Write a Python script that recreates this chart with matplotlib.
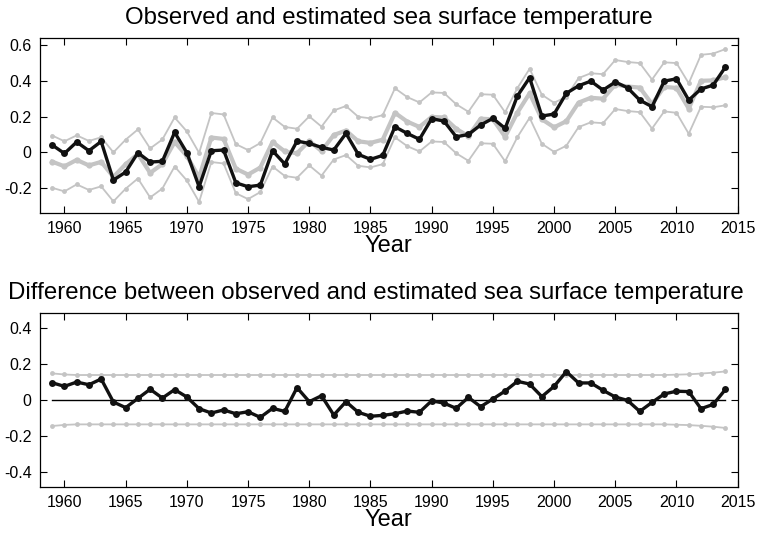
import numpy as np
import matplotlib.pyplot as plt

plt.rcParams['font.family'] = ['Liberation Sans', 'DejaVu Sans']

years = np.arange(1959, 2015)

# observed SST anomaly (black, top panel)
observed = [0.041, -0.006, 0.058, 0.009, 0.061, -0.155, -0.110, -0.002, -0.054, -0.050,
            0.112, -0.002, -0.192, 0.009, 0.013, -0.170, -0.192, -0.183, 0.009, -0.065,
            0.063, 0.050, 0.028, 0.013, 0.106, -0.011, -0.039, -0.017, 0.143, 0.106,
            0.073, 0.188, 0.175, 0.087, 0.100, 0.153, 0.190, 0.134, 0.315, 0.417,
            0.203, 0.214, 0.330, 0.372, 0.398, 0.348, 0.393, 0.361, 0.292, 0.255,
            0.398, 0.411, 0.292, 0.354, 0.376, 0.477]

# estimated SST (thick grey)
estimated = [-0.052, -0.078, -0.042, -0.073, -0.053, -0.137, -0.066, -0.009, -0.115, -0.065,
             0.058, -0.020, -0.140, 0.083, 0.075, -0.091, -0.124, -0.085, 0.058, 0.005,
             -0.005, 0.064, 0.007, 0.097, 0.122, 0.062, 0.053, 0.071, 0.221, 0.172,
             0.142, 0.198, 0.195, 0.132, 0.090, 0.188, 0.185, 0.087, 0.222, 0.330,
             0.185, 0.140, 0.174, 0.278, 0.305, 0.300, 0.379, 0.368, 0.362, 0.270,
             0.366, 0.360, 0.245, 0.400, 0.402, 0.420]

# upper / lower bounds of the estimate (thin grey)
est_upper = [0.094, 0.062, 0.095, 0.064, 0.084, 0.000, 0.071, 0.128, 0.022, 0.072,
             0.195, 0.117, -0.003, 0.220, 0.212, 0.046, 0.013, 0.052, 0.195, 0.142,
             0.132, 0.201, 0.144, 0.234, 0.259, 0.199, 0.190, 0.208, 0.358, 0.309,
             0.279, 0.335, 0.332, 0.269, 0.227, 0.325, 0.322, 0.224, 0.359, 0.467,
             0.322, 0.277, 0.311, 0.415, 0.442, 0.437, 0.516, 0.505, 0.499, 0.407,
             0.503, 0.499, 0.386, 0.545, 0.552, 0.577]
est_lower = [-0.198, -0.218, -0.179, -0.210, -0.190, -0.274, -0.203, -0.146, -0.252, -0.202,
             -0.079, -0.157, -0.277, -0.054, -0.062, -0.228, -0.261, -0.222, -0.079, -0.132,
             -0.142, -0.073, -0.130, -0.040, -0.015, -0.075, -0.084, -0.066, 0.084, 0.035,
             0.005, 0.061, 0.058, -0.005, -0.047, 0.051, 0.048, -0.050, 0.085, 0.193,
             0.048, 0.003, 0.037, 0.141, 0.168, 0.163, 0.242, 0.231, 0.225, 0.133,
             0.229, 0.221, 0.104, 0.255, 0.252, 0.263]

# difference observed - estimated (bottom panel)
difference = [0.094, 0.074, 0.098, 0.083, 0.115, -0.013, -0.044, 0.007, 0.058, 0.009,
              0.056, 0.015, -0.050, -0.074, -0.057, -0.078, -0.067, -0.098, -0.048, -0.065,
              0.067, -0.011, 0.022, -0.085, -0.011, -0.070, -0.092, -0.087, -0.078, -0.063,
              -0.070, -0.006, -0.019, -0.048, 0.013, -0.039, 0.004, 0.048, 0.102, 0.087,
              0.017, 0.074, 0.156, 0.093, 0.093, 0.052, 0.015, -0.004, -0.065, -0.015,
              0.032, 0.047, 0.045, -0.050, -0.026, 0.057]
diff_upper = [0.146, 0.140] + [0.137] * 49 + [0.139, 0.141, 0.145, 0.150, 0.157]
diff_lower = [-0.146, -0.140] + [-0.137] * 49 + [-0.139, -0.141, -0.145, -0.150, -0.157]
zero_line = [0.0] * len(years)

grey = '#c4c4c4'
xticks = np.arange(1960, 2016, 5)

fig = plt.figure(figsize=(7.57, 5.36), dpi=100)
ax1 = fig.add_axes([0.0528, 0.6032, 0.9217, 0.3259])
ax2 = fig.add_axes([0.0528, 0.0920, 0.9217, 0.3246])

ax1.plot(years, est_upper, '-o', color=grey, lw=1.3, ms=3.5, mec='none')
ax1.plot(years, est_lower, '-o', color=grey, lw=1.3, ms=3.5, mec='none')
ax1.plot(years, estimated, '-o', color=grey, lw=3.0, ms=4.5, mec='none')
ax1.plot(years, observed, '-o', color='#111111', lw=2.4, ms=5, mec='none')
ax1.set_ylim(-0.337, 0.639)
ax1.set_yticks([-0.2, 0, 0.2, 0.4, 0.6])
ax1.set_yticklabels(['-0.2', '0', '0.2', '0.4', '0.6'])
ax1.set_title('Observed and estimated sea surface temperature', fontsize=17.3, pad=10)

ax2.plot(years, diff_upper, '-o', color=grey, lw=1.3, ms=3.5, mec='none')
ax2.plot(years, diff_lower, '-o', color=grey, lw=1.3, ms=3.5, mec='none')
ax2.plot(years, zero_line, '-', color='black', lw=1.0)
ax2.plot(years, difference, '-o', color='#111111', lw=2.4, ms=5, mec='none')
ax2.set_ylim(-0.483, 0.483)
ax2.set_yticks([-0.4, -0.2, 0, 0.2, 0.4])
ax2.set_yticklabels(['-0.4', '-0.2', '0', '0.2', '0.4'])
ax2.set_title('Difference between observed and estimated sea surface temperature',
              fontsize=17.3, pad=10, x=0.482)

for ax in (ax1, ax2):
    ax.set_xlim(1958, 2015)
    ax.set_xticks(xticks)
    ax.set_xlabel('Year', fontsize=17, labelpad=-1)
    ax.tick_params(direction='in', top=True, right=True, length=5, width=0.8,
                   labelsize=11.5, pad=6)
    for s in ax.spines.values():
        s.set_linewidth(0.9)

fig.savefig('out.png', dpi=100)
